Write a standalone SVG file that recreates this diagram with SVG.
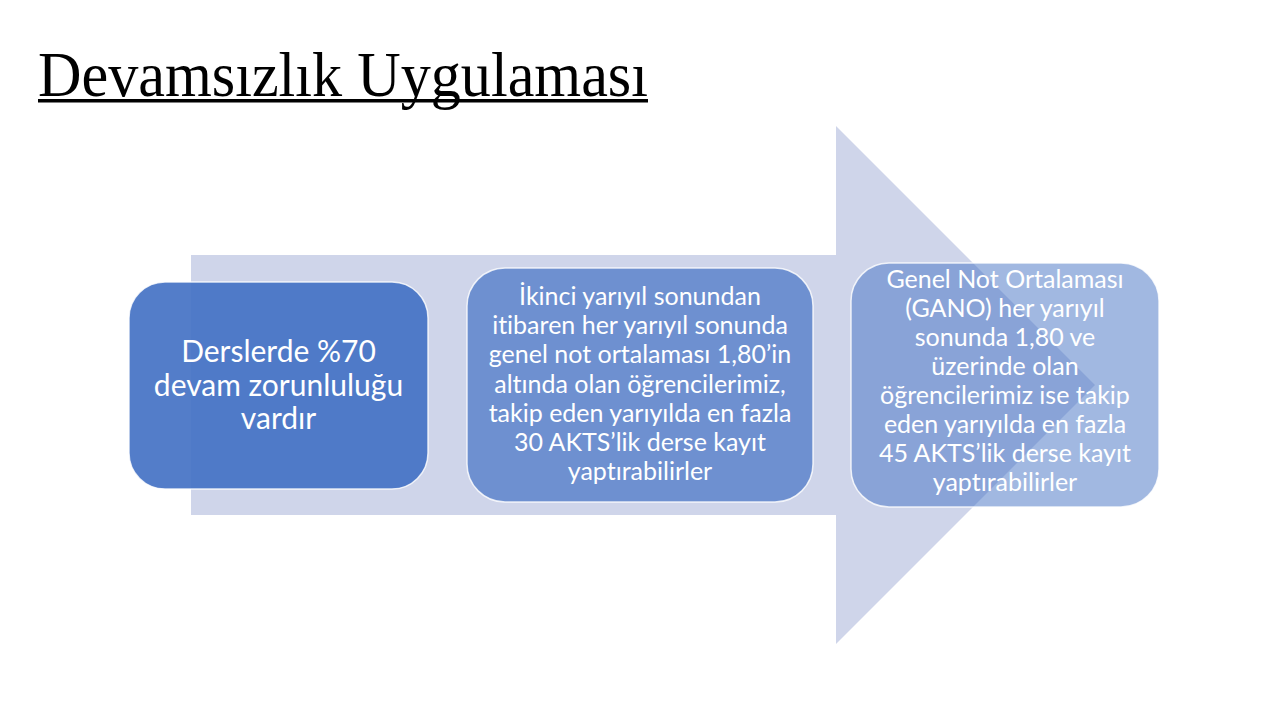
<svg xmlns="http://www.w3.org/2000/svg" width="1280" height="720" viewBox="0 0 1280 720">
  <style>
    .title { font-family: "Liberation Serif", "DejaVu Serif", serif; font-size: 63px; fill: #000000; }
    .box { stroke: #ffffff; stroke-opacity: 0.8; stroke-width: 1.5; }
    .lbl { font-family: Lato, "Noto Sans", "Liberation Sans", sans-serif; fill: #ffffff; text-anchor: middle; font-variant-ligatures: none; font-feature-settings: "liga" 0, "clig" 0; }
    .l1 { font-size: 30px; }
    .l2 { font-size: 25px; }
  </style>
  <rect x="0" y="0" width="1280" height="720" fill="#ffffff"/>
  <g id="title">
    <text class="title" x="38" y="96" textLength="610" lengthAdjust="spacingAndGlyphs">Devamsızlık Uygulaması</text>
    <rect x="38" y="99" width="610" height="3.5" fill="#000000"/>
  </g>
  <g id="connectors">
    <path d="M191,255 L836,255 L836,126 L1095,385 L836,644 L836,515 L191,515 Z" fill="#CFD5EA"/>
  </g>
  <g id="node1">
    <rect class="box" x="129" y="282" width="299" height="207" rx="36" fill="#4472C4" fill-opacity="0.92"/>
    <text class="lbl l1" x="278.5" y="362">Derslerde %70</text>
    <text class="lbl l1" x="278.5" y="395.5">devam zorunluluğu</text>
    <text class="lbl l1" x="278.5" y="429">vardır</text>
  </g>
  <g id="node2">
    <rect class="box" x="467" y="268" width="346" height="234" rx="38" fill="#4472C4" fill-opacity="0.7"/>
    <text class="lbl l2" x="640" y="305">İkinci yarıyıl sonundan</text>
    <text class="lbl l2" x="640" y="334.2">itibaren her yarıyıl sonunda</text>
    <text class="lbl l2" x="640" y="363.3">genel not ortalaması 1,80’in</text>
    <text class="lbl l2" x="640" y="392.5">altında olan öğrencilerimiz,</text>
    <text class="lbl l2" x="640" y="421.7">takip eden yarıyılda en fazla</text>
    <text class="lbl l2" x="640" y="450.8">30 AKTS’lik derse kayıt</text>
    <text class="lbl l2" x="640" y="480">yaptırabilirler</text>
  </g>
  <g id="node3">
    <rect class="box" x="851" y="263" width="308" height="244" rx="38" fill="#4472C4" fill-opacity="0.5"/>
    <text class="lbl l2" x="1005" y="288">Genel Not Ortalaması</text>
    <text class="lbl l2" x="1005" y="317">(GANO) her yarıyıl</text>
    <text class="lbl l2" x="1005" y="346">sonunda 1,80 ve</text>
    <text class="lbl l2" x="1005" y="375">üzerinde olan</text>
    <text class="lbl l2" x="1005" y="404">öğrencilerimiz ise takip</text>
    <text class="lbl l2" x="1005" y="433">eden yarıyılda en fazla</text>
    <text class="lbl l2" x="1005" y="462">45 AKTS’lik derse kayıt</text>
    <text class="lbl l2" x="1005" y="491">yaptırabilirler</text>
  </g>
</svg>
